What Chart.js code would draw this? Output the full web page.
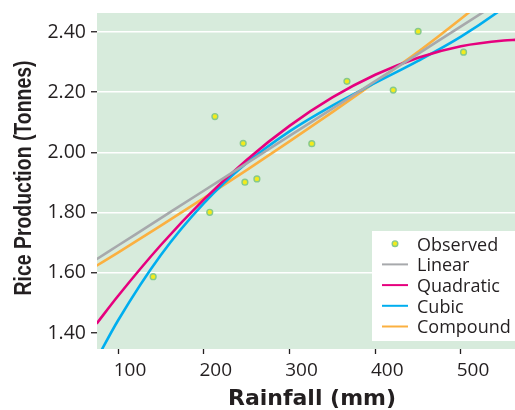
<!DOCTYPE html>
<html><head><meta charset="utf-8">
<script src="https://cdn.jsdelivr.net/npm/chart.js@4.4.1/dist/chart.umd.min.js"></script>
<style>html,body{margin:0;padding:0;background:#fff;}canvas{display:block;}</style>
</head><body>
<canvas id="c" width="515" height="410"></canvas>
<script>
const rainfall   = [141, 207, 213, 246, 248, 262, 326, 367, 421, 450, 503];
const production = [1.587, 1.801, 2.119, 2.030, 1.901, 1.912, 2.029, 2.236, 2.207, 2.402, 2.333];

const fitRainfall  = [75, 100, 150, 200, 250, 300, 350, 400, 450, 500, 550, 565];
const linearFit    = [1.6451, 1.6906, 1.7816, 1.8726, 1.9636, 2.0546, 2.1456, 2.2366, 2.3276, 2.4186, 2.5096, 2.5369];
const quadraticFit = [1.4311, 1.5229, 1.6923, 1.8430, 1.9749, 2.0880, 2.1824, 2.2579, 2.3147, 2.3527, 2.3718, 2.3739];
const cubicFit     = [1.3124, 1.4415, 1.6592, 1.8306, 1.9645, 2.0699, 2.1556, 2.2307, 2.3040, 2.3844, 2.4808, 2.5142];
const compoundFit  = [1.6234, 1.6673, 1.7566, 1.8479, 1.9412, 2.0365, 2.1338, 2.2331, 2.3343, 2.4440, 2.5600, 2.5960];

const xTickValues = [100, 200, 300, 400, 500];
const yTickValues = [1.40, 1.60, 1.80, 2.00, 2.20, 2.40];
const seriesLabels = ['Observed', 'Linear', 'Quadratic', 'Cubic', 'Compound'];
const xTitle = 'Rainfall (mm)';
const yTitle = 'Rice Production (Tonnes)';

const INK = '#231f20';
const toPts = (xs, ys) => xs.map((x, i) => ({x: x, y: ys[i]}));

const plotBg = {
  id: 'plotBg',
  beforeDraw(chart) {
    const {ctx, chartArea: a} = chart;
    ctx.save();
    ctx.fillStyle = '#d7ebdc';
    ctx.fillRect(a.left, a.top, a.right - a.left, a.bottom - a.top);
    ctx.restore();
  }
};

// Axis titles: the y title is set in a condensed bold face (horizontally narrowed)
const axisTitles = {
  id: 'axisTitles',
  afterDraw(chart) {
    const {ctx, chartArea: a} = chart;
    ctx.save();
    ctx.fillStyle = INK;
    ctx.textAlign = 'center';
    ctx.textBaseline = 'alphabetic';
    ctx.font = 'bold 22px "DejaVu Sans"';
    ctx.fillText(chart.options.scales.x.title.text, (a.left + a.right) / 2 + 6, 405);

    ctx.font = 'bold 23.5px "Liberation Sans"';
    const w = ctx.measureText(chart.options.scales.y.title.text).width;
    const sx = 235 / w;
    ctx.translate(31, (a.top + a.bottom) / 2 - 3);
    ctx.rotate(-Math.PI / 2);
    ctx.scale(sx, 1);
    ctx.fillText(chart.options.scales.y.title.text, 0, 0);
    ctx.restore();
  }
};

const legendBox = {
  id: 'legendBox',
  afterDraw(chart) {
    const {ctx, chartArea: a} = chart;
    const left = a.right - 143, top = a.bottom - 118;
    ctx.save();
    ctx.fillStyle = '#ffffff';
    ctx.fillRect(left, top, 143, 110);
    chart.data.datasets.forEach((ds, i) => {
      const cy = top + 12.7 + 20.7 * i;
      if (i === 0) {
        ctx.beginPath();
        ctx.arc(left + 23, cy, 2.8, 0, Math.PI * 2);
        ctx.fillStyle = ds.backgroundColor;
        ctx.fill();
        ctx.lineWidth = 1.4;
        ctx.strokeStyle = ds.borderColor;
        ctx.stroke();
      } else {
        ctx.beginPath();
        ctx.moveTo(left + 10, cy);
        ctx.lineTo(left + 36, cy);
        ctx.lineWidth = 2;
        ctx.strokeStyle = ds.borderColor;
        ctx.stroke();
      }
      ctx.fillStyle = INK;
      ctx.font = '18px "Open Sans"';
      ctx.textBaseline = 'alphabetic';
      ctx.textAlign = 'left';
      ctx.fillText(ds.label, left + 45, cy + 6.8);
    });
    ctx.restore();
  }
};

const lineDs = (label, ys, color) => ({
  type: 'line', label: label, data: toPts(fitRainfall, ys),
  borderColor: color, backgroundColor: color, borderWidth: 2.6,
  pointRadius: 0, pointHoverRadius: 0, cubicInterpolationMode: 'monotone', fill: false, clip: 0
});

new Chart(document.getElementById('c'), {
  type: 'scatter',
  data: {
    datasets: [
      { type: 'scatter', label: seriesLabels[0], data: toPts(rainfall, production),
        backgroundColor: '#f2eb1c', borderColor: '#86c98b', borderWidth: 1.4,
        pointRadius: 2.9, pointHoverRadius: 2.9, clip: 0 },
      lineDs(seriesLabels[1], linearFit, '#a7a9ac'),
      lineDs(seriesLabels[2], quadraticFit, '#e6007e'),
      lineDs(seriesLabels[3], cubicFit, '#00aeef'),
      lineDs(seriesLabels[4], compoundFit, '#fbb040')
    ]
  },
  options: {
    responsive: false, animation: false, devicePixelRatio: 1,
    layout: { autoPadding: false, padding: { top: 13, right: 0, left: 0, bottom: 0 } },
    plugins: { legend: { display: false }, tooltip: { enabled: false } },
    scales: {
      x: {
        type: 'linear', min: 75.5, max: 563,
        afterBuildTicks: s => { s.ticks = xTickValues.map(v => ({value: v})); },
        afterFit: s => { s.height = 61; s.paddingLeft = 0; s.paddingRight = 0; },
        border: { display: false },
        grid: { drawOnChartArea: false, drawTicks: true, tickLength: 5, tickColor: INK, tickWidth: 1.3 },
        ticks: { color: INK, font: { family: '"Open Sans"', size: 19 }, padding: 5, labelOffset: 12, maxRotation: 0 },
        title: { display: false, text: xTitle }
      },
      y: {
        type: 'linear', min: 1.3468, max: 2.4631,
        afterBuildTicks: s => { s.ticks = yTickValues.map(v => ({value: v})); },
        afterFit: s => { s.width = 97; s.paddingTop = 0; s.paddingBottom = 0; },
        border: { display: false },
        grid: {
          color: c => (c.tick && Math.abs(c.tick.value - 1.4) < 1e-6) ? 'rgba(0,0,0,0)' : '#ffffff',
          lineWidth: 1.5, drawTicks: true, tickLength: 6, tickColor: INK, tickWidth: 1.3
        },
        ticks: { color: INK, font: { family: '"Open Sans"', size: 19.5 }, padding: 5,
          callback: v => Number(v).toFixed(2) },
        title: { display: false, text: yTitle }
      }
    }
  },
  plugins: [plotBg, axisTitles, legendBox]
});
</script>
</body></html>
